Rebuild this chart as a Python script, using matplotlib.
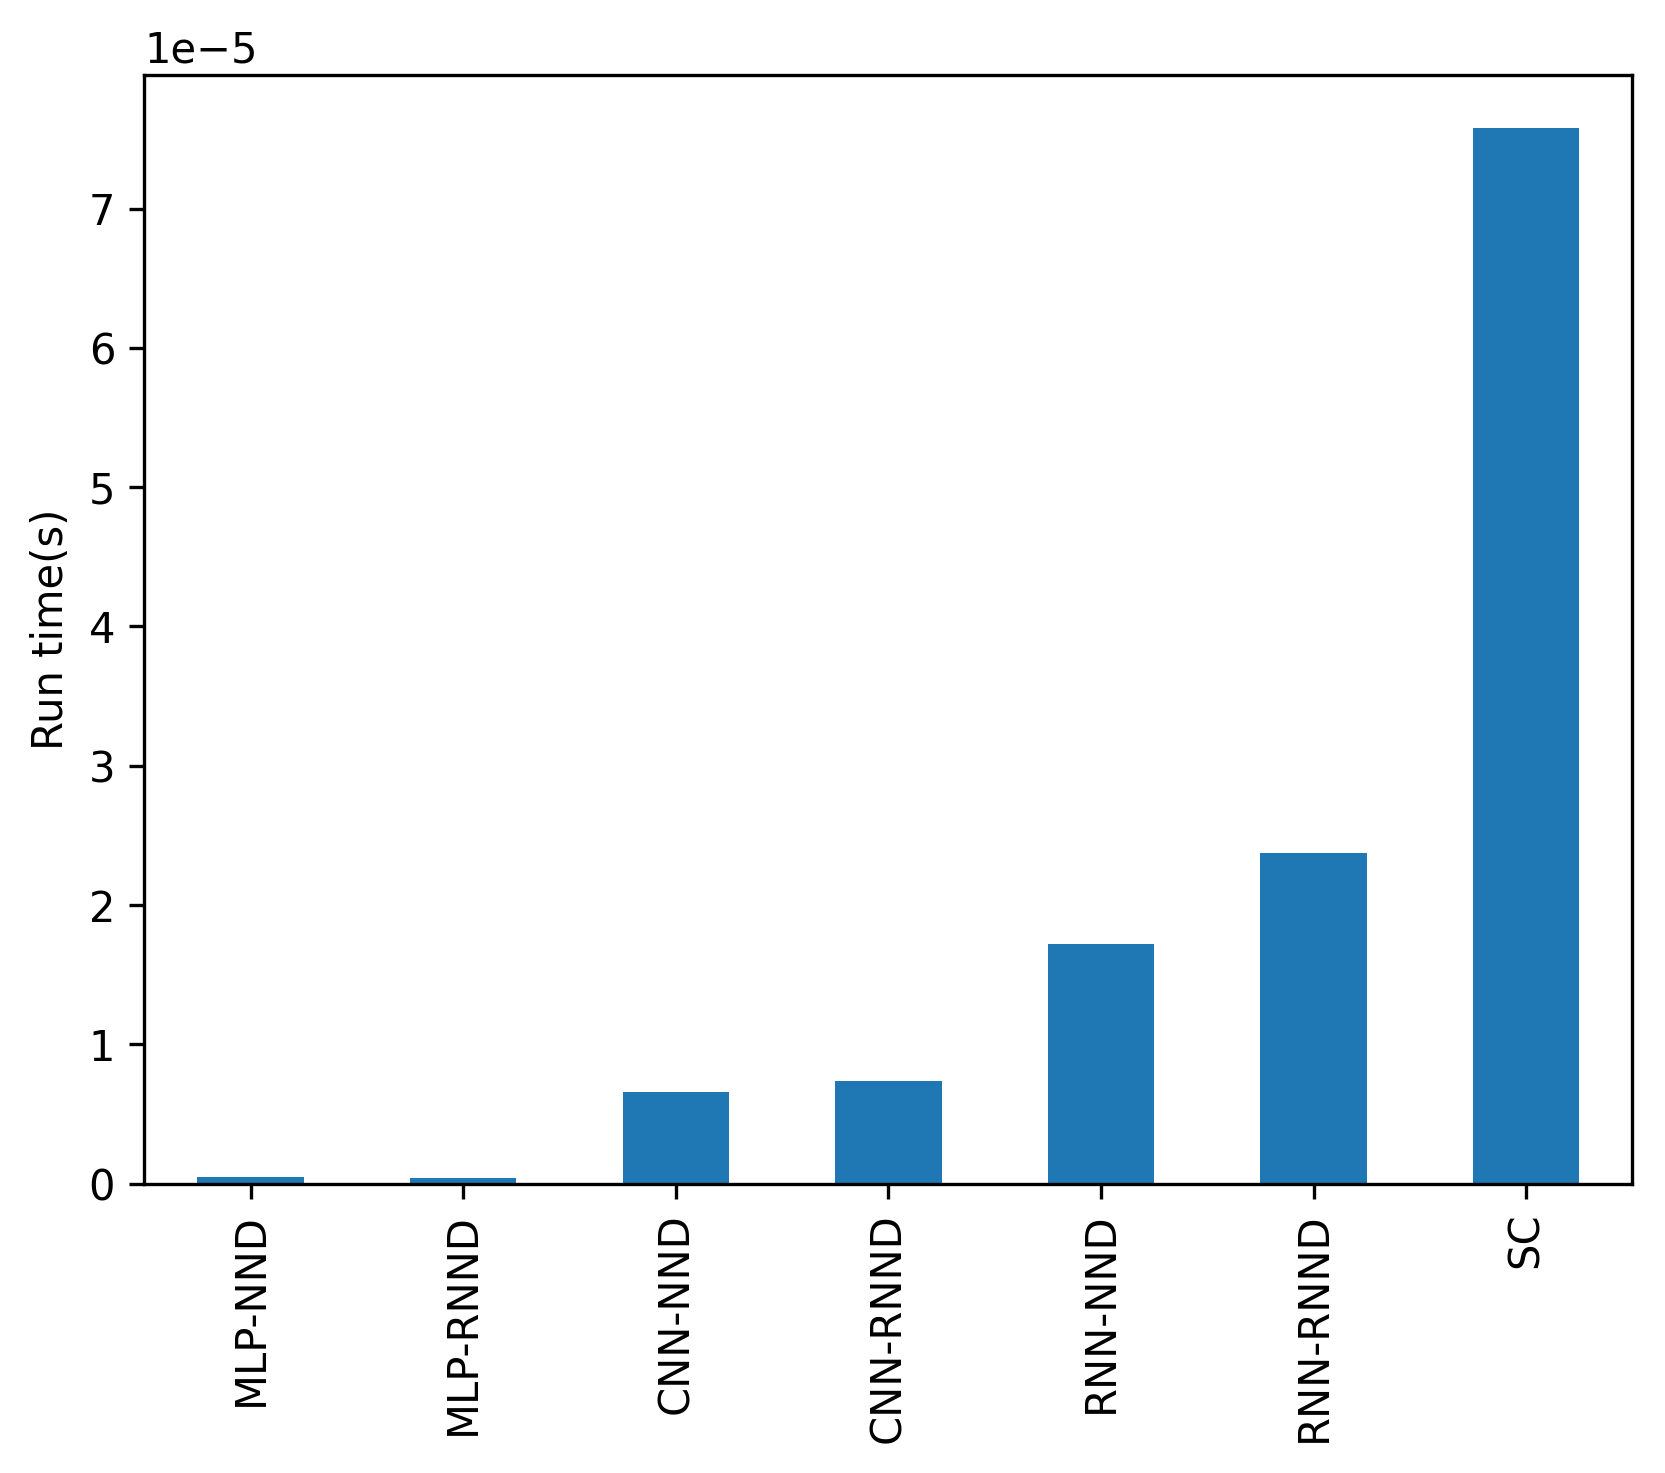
import matplotlib
matplotlib.use('Agg')
import matplotlib.pyplot as plt
import pandas as pd

# run time per model, seconds
models = ['MLP-NND', 'MLP-RNND', 'CNN-NND', 'CNN-RNND', 'RNN-NND', 'RNN-RNND', 'SC']
run_time = [0.047e-5, 0.040e-5, 0.656e-5, 0.735e-5, 1.718e-5, 2.374e-5, 7.58e-5]

s = pd.Series(run_time, index=models)

fig = plt.figure(figsize=(1665 / 300, 1473 / 300), dpi=300)
ax = fig.add_axes([0.0867, 0.1964, 0.8937, 0.7527])
s.plot(kind='bar', ax=ax, color='#1f77b4')
ax.set_ylabel('Run time(s)')

plt.savefig('out.png', dpi=300)
